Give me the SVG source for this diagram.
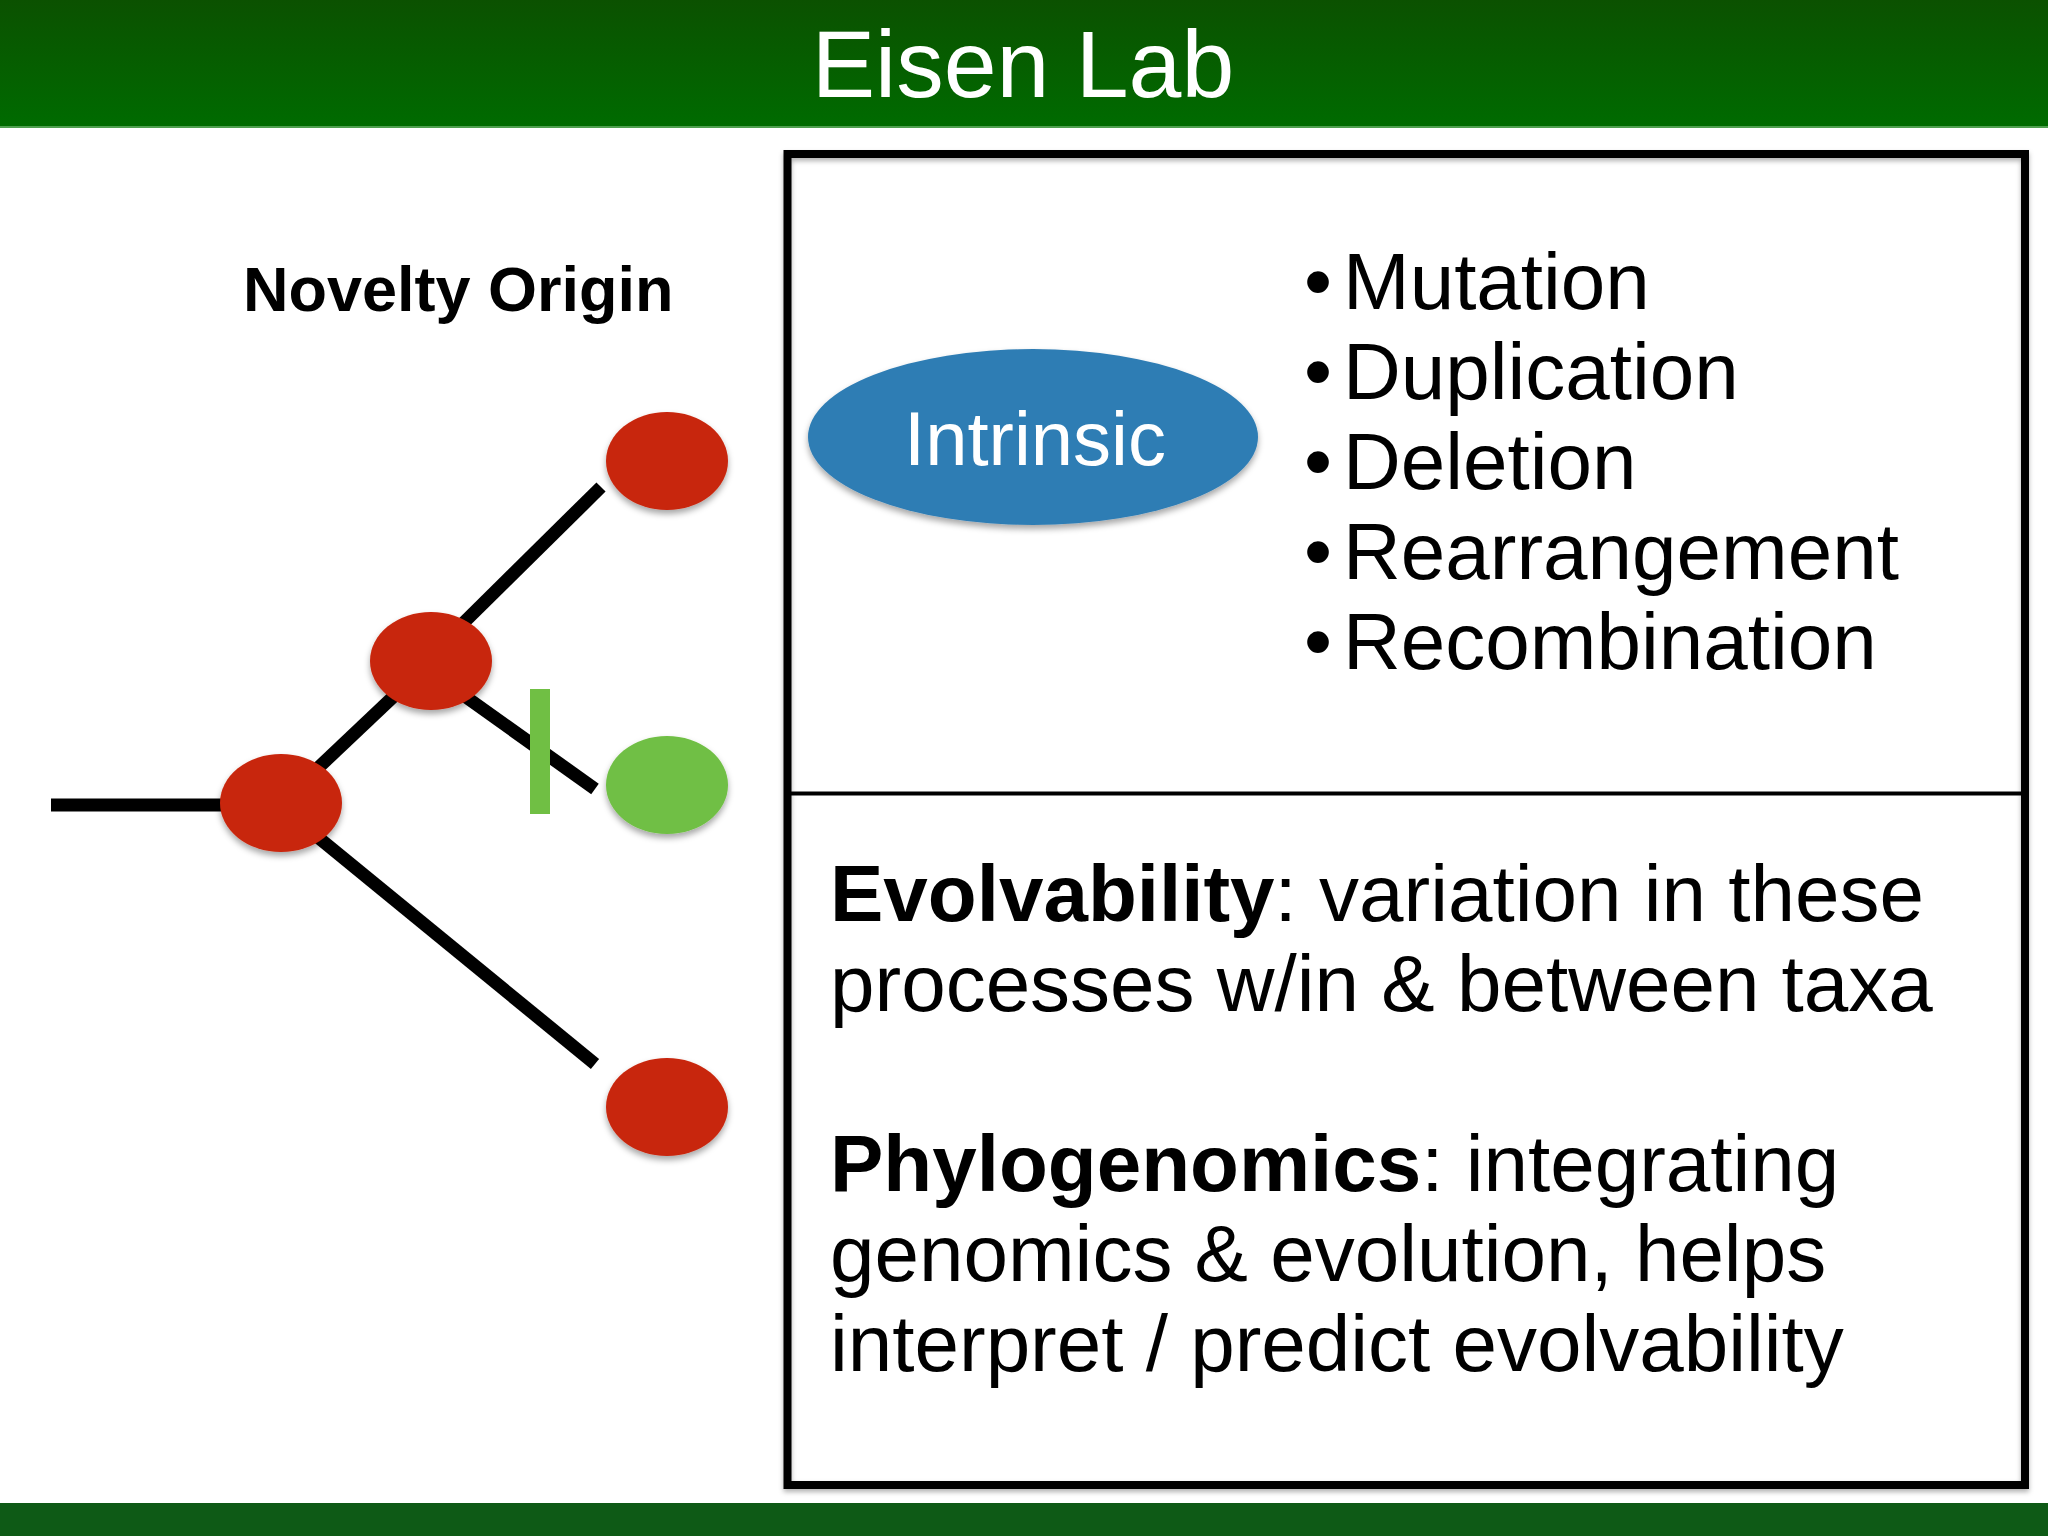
<svg xmlns="http://www.w3.org/2000/svg" width="2048" height="1536" viewBox="0 0 2048 1536">
  <defs>
    <linearGradient id="hdr" x1="0" y1="0" x2="0" y2="1">
      <stop offset="0" stop-color="#0b5100"/>
      <stop offset="1" stop-color="#006b00"/>
    </linearGradient>
    <filter id="shadow" x="-20%" y="-20%" width="140%" height="150%">
      <feDropShadow dx="0" dy="4" stdDeviation="3" flood-color="#000" flood-opacity="0.35"/>
    </filter>
    <filter id="boxshadow" x="-5%" y="-5%" width="110%" height="110%">
      <feDropShadow dx="0" dy="3" stdDeviation="2.5" flood-color="#000" flood-opacity="0.3"/>
    </filter>
  </defs>
  <style>
    .sans { font-family: "Liberation Sans", Arial, sans-serif; }
    .branch { stroke: #000; stroke-width: 13; stroke-linecap: butt; fill: none; }
    .red { fill: #c8260b; filter: url(#shadow); }
    .green { fill: #70bf44; filter: url(#shadow); }
    .body { font-size: 80px; fill: #000; }
    .bold { font-weight: bold; }
  </style>

  <rect x="0" y="0" width="2048" height="1536" fill="#ffffff"/>

  <g id="header">
    <rect x="0" y="0" width="2048" height="127" fill="url(#hdr)"/>
    <rect x="0" y="126" width="2048" height="2" fill="#4f9f4f"/>
    <text class="sans" x="1023" y="97" font-size="95" fill="#ffffff" text-anchor="middle">Eisen Lab</text>
  </g>
  <g id="footer">
    <rect x="0" y="1503" width="2048" height="33" fill="#0e5a16"/>
  </g>

  <g id="novelty-label">
    <text class="sans bold" x="243" y="311" font-size="63" fill="#000">Novelty Origin</text>
  </g>

  <g id="connectors">
    <line class="branch" x1="51" y1="805" x2="281" y2="805"/>
    <line class="branch" x1="281" y1="803" x2="431" y2="661"/>
    <line class="branch" x1="431" y1="655" x2="601" y2="487"/>
    <line class="branch" x1="431" y1="672" x2="595" y2="789"/>
    <line class="branch" x1="281" y1="807" x2="595" y2="1064"/>
  </g>

  <g id="mutation-mark">
    <rect x="530" y="689" width="20" height="125" fill="#70bf44"/>
  </g>

  <g id="node-root"><ellipse class="red" cx="281" cy="803" rx="61" ry="49"/></g>
  <g id="node-middle"><ellipse class="red" cx="431" cy="661" rx="61" ry="49"/></g>
  <g id="node-leaf-top"><ellipse class="red" cx="667" cy="461" rx="61" ry="49"/></g>
  <g id="node-leaf-green"><ellipse class="green" cx="667" cy="785" rx="61" ry="49"/></g>
  <g id="node-leaf-bottom"><ellipse class="red" cx="667" cy="1107" rx="61" ry="49"/></g>

  <g id="info-box">
    <rect x="787.5" y="154" width="1237.5" height="1331" fill="none" stroke="#000" stroke-width="8" filter="url(#boxshadow)"/>
    <line x1="791" y1="793.5" x2="2021" y2="793.5" stroke="#000" stroke-width="4"/>
  </g>

  <g id="intrinsic">
    <ellipse cx="1033" cy="437" rx="225" ry="88" fill="#2f7db4" filter="url(#shadow)"/>
    <text class="sans" x="1035" y="465" font-size="76" fill="#ffffff" text-anchor="middle">Intrinsic</text>
  </g>

  <g id="process-list" class="sans body">
    <text y="309"><tspan x="1304">•</tspan><tspan x="1343">Mutation</tspan></text>
    <text y="399"><tspan x="1304">•</tspan><tspan x="1343">Duplication</tspan></text>
    <text y="489"><tspan x="1304">•</tspan><tspan x="1343">Deletion</tspan></text>
    <text y="579"><tspan x="1304">•</tspan><tspan x="1343">Rearrangement</tspan></text>
    <text y="669"><tspan x="1304">•</tspan><tspan x="1343">Recombination</tspan></text>
  </g>

  <g id="evolvability" class="sans body">
    <text x="830" y="921"><tspan class="bold">Evolvability</tspan>: variation in these</text>
    <text x="830" y="1011">processes w/in &amp; between taxa</text>
  </g>

  <g id="phylogenomics" class="sans body">
    <text x="830" y="1191"><tspan class="bold">Phylogenomics</tspan>: integrating</text>
    <text x="830" y="1281">genomics &amp; evolution, helps</text>
    <text x="830" y="1371">interpret / predict evolvability</text>
  </g>
</svg>
